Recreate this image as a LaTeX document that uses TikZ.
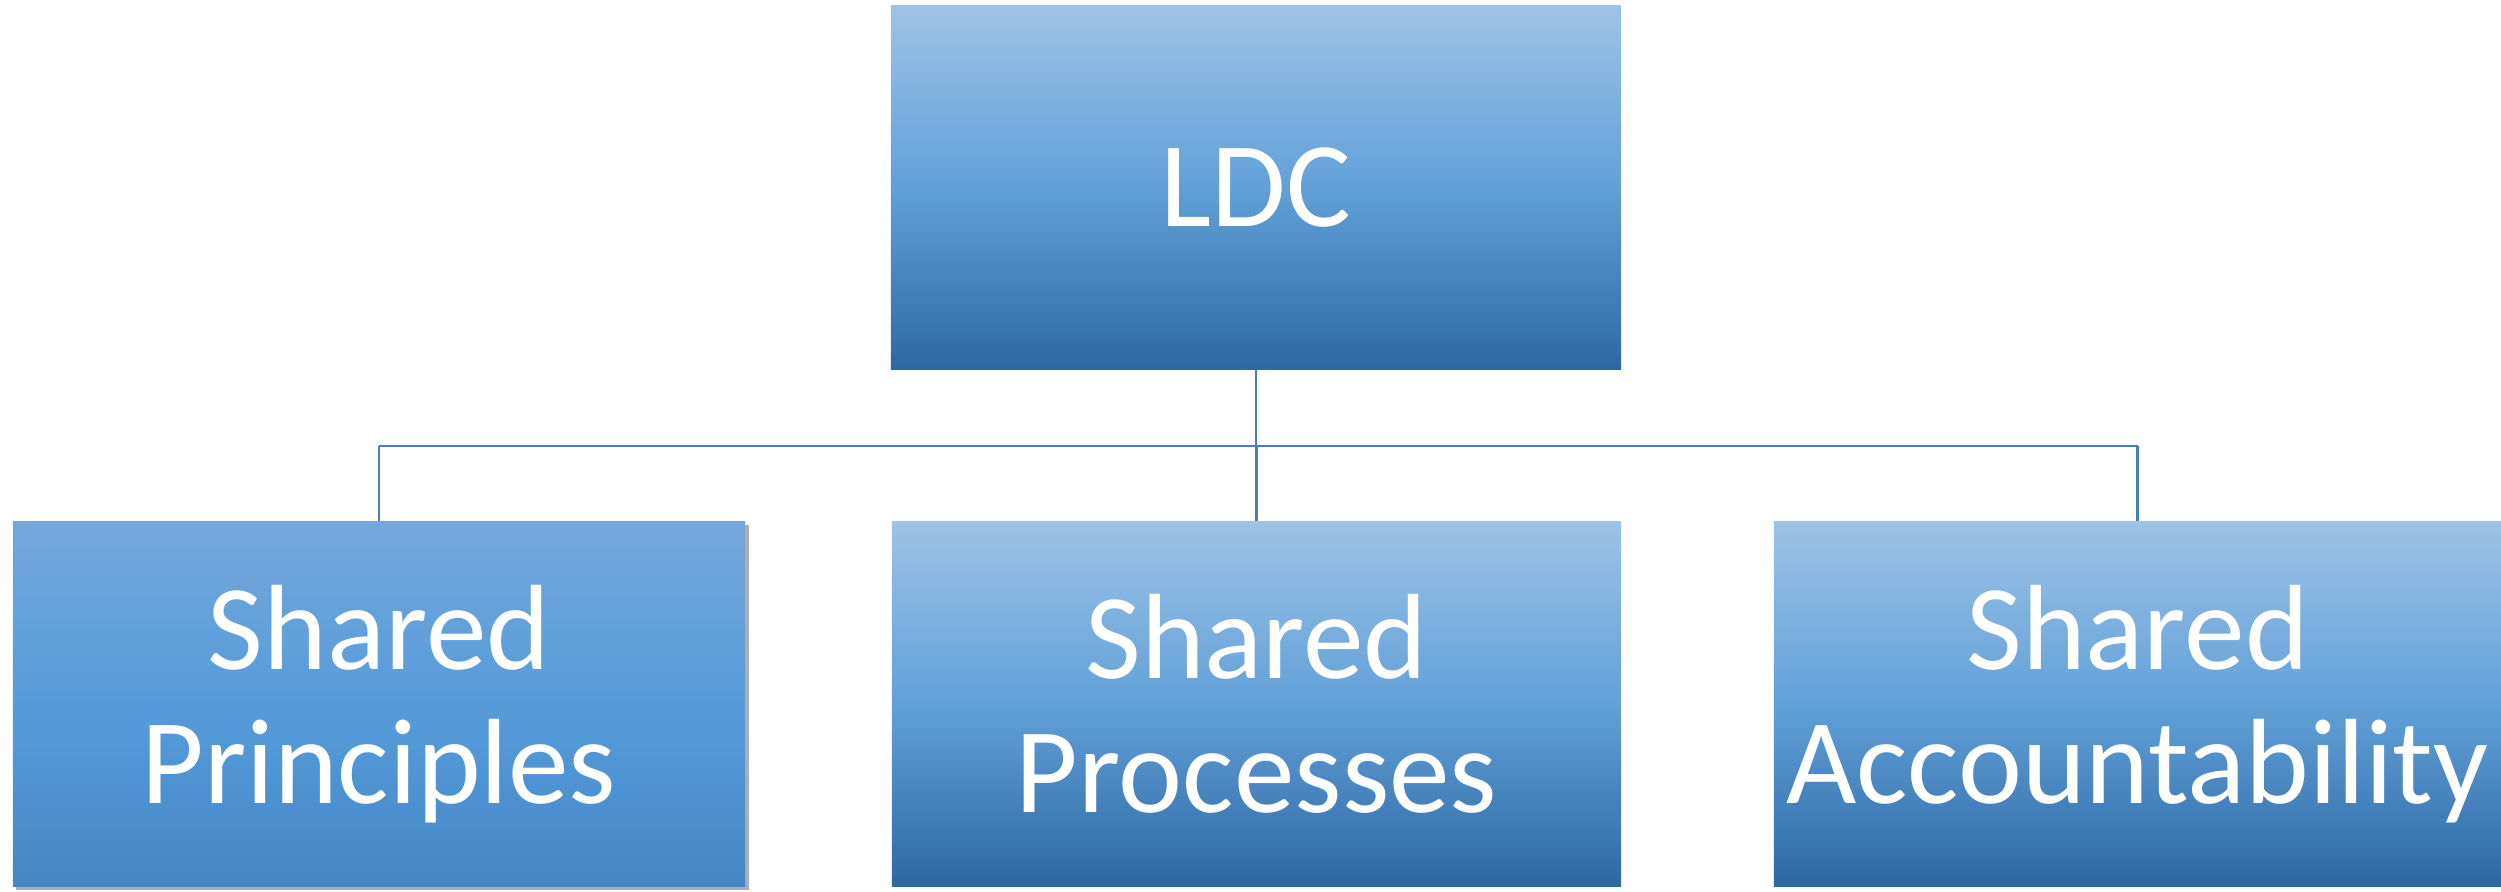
\documentclass[tikz,border=0pt]{standalone}
\usepackage{fontspec}
\setmainfont{Carlito}
\usetikzlibrary{shadows}
\definecolor{tA}{HTML}{9DC3E6}
\definecolor{tB}{HTML}{62A0D8}
\definecolor{tC}{HTML}{2D68A2}
\definecolor{sA}{HTML}{75A7DA}
\definecolor{sB}{HTML}{569CDB}
\definecolor{sC}{HTML}{4487C5}
\definecolor{lineC}{HTML}{4A7FB5}
\tikzset{
  orgbox/.style={rectangle, inner sep=0pt, text=white, align=center,
    font=\fontsize{34.5}{38}\selectfont,
    top color=tA, bottom color=tC, middle color=tB},
  selbox/.style={orgbox, top color=sA, bottom color=sC, middle color=sB,
    drop shadow={shadow xshift=0.035cm, shadow yshift=-0.035cm, opacity=0.45, fill=black!70}},
  link/.style={draw=lineC, line width=0.7pt}
}
\begin{document}
\begin{tikzpicture}[x=0.01cm, y=-0.01cm]
\useasboundingbox (0,0) rectangle (2501,892);
\node[orgbox, minimum width=7.30cm, minimum height=3.63cm] (ldc) at (1256,187.5) {LDC};
\node[selbox, minimum width=7.32cm, minimum height=3.64cm] (princ) at (379,704) {Shared\\Principles};
\node[orgbox, minimum width=7.29cm, minimum height=3.64cm] (proc) at (1256.5,704) {Shared\\Processes};
\node[orgbox, minimum width=7.27cm, minimum height=3.64cm] (acc) at (2137.5,704) {Shared\\Accountability};
\coordinate (j) at (1256,446);
\draw[link] (ldc.south) -- (j);
\draw[link] (princ.north |- j) -- (acc.north |- j);
\draw[link] (princ.north |- j) -- (princ.north);
\draw[link] (proc.north |- j) -- (proc.north);
\draw[link] (acc.north |- j) -- (acc.north);
\end{tikzpicture}
\end{document}
